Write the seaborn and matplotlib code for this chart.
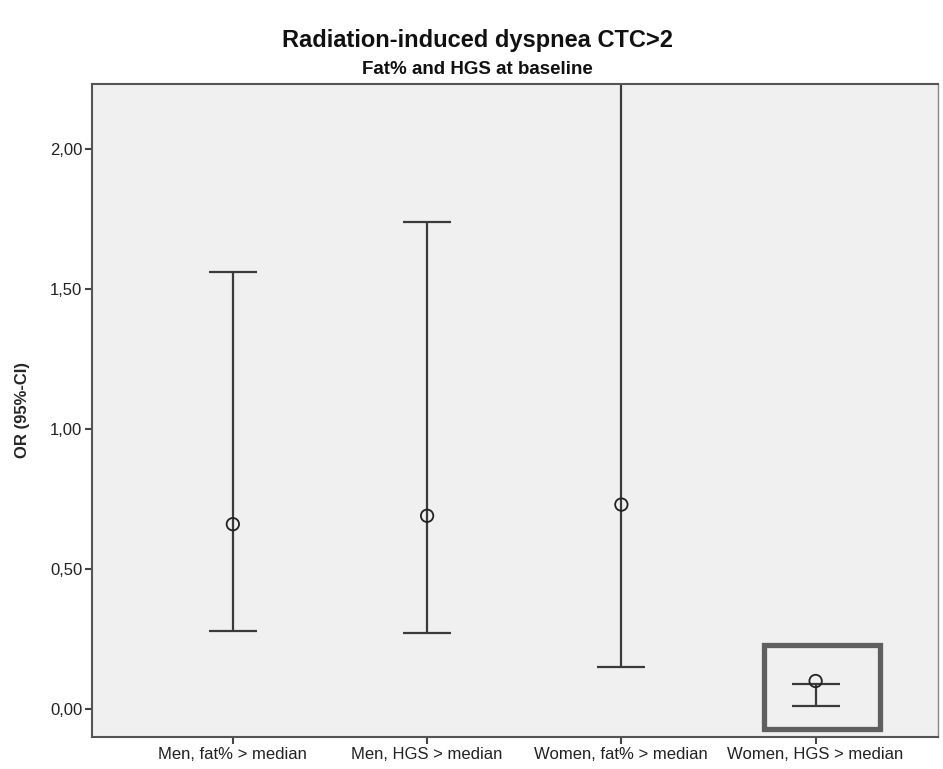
import numpy as np
import pandas as pd
import matplotlib
matplotlib.use("Agg")
import matplotlib.pyplot as plt
import matplotlib.patches as mpatches
import seaborn as sns

categories = ["Men, fat% > median", "Men, HGS > median",
              "Women, fat% > median", "Women, HGS > median"]
odds_ratio = [0.66, 0.69, 0.73, 0.10]
ci_lower = [0.28, 0.27, 0.15, 0.01]
ci_upper = [1.56, 1.74, 3.60, 0.09]
y_ticks = [0.0, 0.5, 1.0, 1.5, 2.0]
y_tick_labels = ["0,00", "0,50", "1,00", "1,50", "2,00"]

sns.set_theme(style="white")
plt.rcParams["font.family"] = ["Liberation Sans", "DejaVu Sans"]

df = pd.DataFrame({"category": categories, "OR": odds_ratio,
                   "lo": ci_lower, "hi": ci_upper})

fig = plt.figure(figsize=(9.43, 7.69), dpi=100)
ax = fig.add_axes([92 / 943, 32 / 769, (938 - 92) / 943, (737 - 84) / 769])
ax.set_facecolor("#f0f0f0")

line_col = "#3a3a3a"
mid = (df["hi"] + df["lo"]) / 2
half = (df["hi"] - df["lo"]) / 2
ax.errorbar(df["category"], mid, yerr=half, fmt="none", ecolor=line_col,
            elinewidth=1.6, capsize=17.3, capthick=1.6, zorder=2)
sns.scatterplot(data=df, x="category", y="OR", ax=ax, marker="o", s=80,
                facecolor="none", edgecolor="#222222", linewidth=1.3, zorder=3)

# highlight box
ax.add_patch(mpatches.Rectangle((2.735, -0.07), 0.595, 0.30, fill=False,
                                edgecolor="#5f5f5f", linewidth=3.8, zorder=4,
                                clip_on=False))

ax.set_xlim(-0.725, 3.63)
ax.set_ylim(-0.10, 2.232)
ax.set_yticks(y_ticks)
ax.set_yticklabels(y_tick_labels)
ax.set_xlabel("")
ax.set_ylabel("OR (95%-CI)", fontsize=12, fontweight="bold", labelpad=14)

for s in ["left", "bottom", "top", "right"]:
    ax.spines[s].set_color("#555555")
    ax.spines[s].set_linewidth(1.5)
ax.spines["right"].set_linewidth(1.0)
ax.spines["right"].set_color("#888888")
ax.tick_params(axis="both", which="both", direction="out", length=5, width=1.5,
               color="#444444", labelsize=12, labelcolor="#222222", pad=2,
               left=True, bottom=True)

fig.text(477 / 943, 1 - 40 / 769, "Radiation-induced dyspnea CTC>2",
         ha="center", va="center", fontsize=17, fontweight="bold", color="#111111")
fig.text(477 / 943, 1 - 70 / 769, "Fat% and HGS at baseline",
         ha="center", va="center", fontsize=13.5, fontweight="bold", color="#111111")

fig.savefig("out.png", dpi=100)
